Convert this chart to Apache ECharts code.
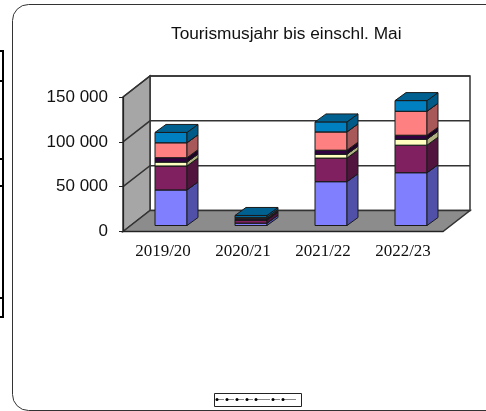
<!DOCTYPE html>
<html>
<head>
<meta charset="utf-8">
<style>
html, body { margin: 0; padding: 0; background: #fff; }
#chart { width: 486px; height: 411px; }
</style>
<script src="https://cdn.jsdelivr.net/npm/echarts@6/dist/echarts.min.js"></script>
</head>
<body>
<div id="chart"></div>
<script>
var categories = ['2019/20', '2020/21', '2021/22', '2022/23'];
var yTicks = [0, 50000, 100000, 150000];

// stack from bottom to top
var seg1 = [39700, 2700, 48900, 58900];
var seg2 = [26700, 3400, 26300, 30700];
var seg3 = [4400, 300, 4400, 6700];
var seg4 = [4800, 1300, 4400, 4400];
var seg5 = [16700, 1500, 20400, 26700];
var seg6 = [11500, 2000, 11100, 11900];
var segments = [seg1, seg2, seg3, seg4, seg5, seg6];

var segColors = ['#8080ff', '#802060', '#ffffc0', '#300040', '#ff8080', '#0080c0'];
var sideColors = ['#5050a8', '#50143f', '#b0b080', '#200028', '#a85858', '#005a88'];
var topColor = '#00608f';

var legendDots = [217, 227, 237, 247, 256, 273, 283];

var wallDx = 27, wallDy = -21;
var barDx = 8, barDy = -6;
var sideDx = 11, sideDy = -8;

var chart = echarts.init(document.getElementById('chart'), null, { renderer: 'canvas' });

function poly(points, fill, stroke, lw) {
    return {
        type: 'polygon',
        shape: { points: points },
        style: { fill: fill, stroke: stroke, lineWidth: lw }
    };
}

function renderWalls(params, api) {
    var v = api.value(0);
    var left = api.coord([0, v])[0] - api.size([1, 0])[0] / 2;
    var right = left + api.size([1, 0])[0] * categories.length;
    var y = api.coord([0, v])[1];
    var kids = [];
    if (v === 0) {
        var top = api.coord([0, yTicks[yTicks.length - 1]])[1];
        // back wall, left wall, floor
        kids.push(poly([[left + wallDx, top + wallDy], [right + wallDx, top + wallDy], [right + wallDx, y + wallDy], [left + wallDx, y + wallDy]], '#ffffff', '#333333', 1.5));
        kids.push(poly([[left, top], [left + wallDx, top + wallDy], [left + wallDx, y + wallDy], [left, y]], '#a6a6a6', '#333333', 1.5));
        kids.push(poly([[left, y], [left + wallDx, y + wallDy], [right + wallDx, y + wallDy], [right, y]], '#8c8c8c', '#333333', 1.5));
    } else {
        kids.push({ type: 'polyline', shape: { points: [[left, y], [left + wallDx, y + wallDy], [right + wallDx, y + wallDy]] }, style: { fill: 'none', stroke: '#333333', lineWidth: 1.5 } });
    }
    return { type: 'group', children: kids };
}

function renderBar(params, api) {
    var idx = api.value(0);
    var base = api.coord([idx, api.value(1)]);
    var end = api.coord([idx, api.value(2)]);
    var half = api.size([1, 0])[0] * 0.2;
    var x0 = base[0] - half + barDx, x1 = base[0] + half + barDx;
    var y0 = base[1] + barDy, y1 = end[1] + barDy;
    var s = params.seriesIndex - 1;
    return {
        type: 'group',
        children: [
            poly([[x0, y1], [x1, y1], [x1, y0], [x0, y0]], segColors[s], '#1a1a1a', 1),
            poly([[x1, y1], [x1 + sideDx, y1 + sideDy], [x1 + sideDx, y0 + sideDy], [x1, y0]], sideColors[s], '#1a1a1a', 1),
            poly([[x0, y1], [x0 + sideDx, y1 + sideDy], [x1 + sideDx, y1 + sideDy], [x1, y1]], topColor, '#1a1a1a', 1)
        ]
    };
}

var series = [{
    type: 'custom',
    renderItem: renderWalls,
    data: yTicks.map(function (t) { return [t]; }),
    encode: { y: 0 },
    silent: true,
    z: 1
}];

segments.forEach(function (seg, s) {
    var rows = seg.map(function (val, i) {
        var base = 0;
        for (var k = 0; k < s; k++) { base += segments[k][i]; }
        return [i, base, base + val];
    });
    series.push({
        type: 'custom',
        renderItem: renderBar,
        data: rows,
        encode: { x: 0, y: [1, 2] },
        silent: true,
        z: 2 + s
    });
});

// page furniture: rounded frame, clipped table on the left, empty legend box
var graphics = [
    { type: 'rect', shape: { x: 12.5, y: 4.5, width: 500, height: 406, r: 16 }, style: { fill: '#fff', stroke: '#333', lineWidth: 1 }, z: -10 },
    { type: 'polyline', shape: { points: [[0, 51], [3, 51], [3, 317], [0, 317]] }, style: { fill: 'none', stroke: '#000', lineWidth: 2 } },
    { type: 'line', shape: { x1: 0, y1: 81, x2: 3, y2: 81 }, style: { stroke: '#000', lineWidth: 2 } },
    { type: 'line', shape: { x1: 0, y1: 159, x2: 3, y2: 159 }, style: { stroke: '#000', lineWidth: 2 } },
    { type: 'line', shape: { x1: 0, y1: 186, x2: 3, y2: 186 }, style: { stroke: '#000', lineWidth: 2 } },
    { type: 'line', shape: { x1: 0, y1: 298, x2: 3, y2: 298 }, style: { stroke: '#000', lineWidth: 2 } },
    { type: 'rect', shape: { x: 214.5, y: 393.5, width: 87, height: 13 }, style: { fill: '#fff', stroke: '#222', lineWidth: 1 } }
];
legendDots.forEach(function (x, i) {
    var next = i < legendDots.length - 1 ? legendDots[i + 1] : 299;
    graphics.push({ type: 'line', shape: { x1: x, y1: 399.5, x2: next - 3, y2: 399.5 }, style: { stroke: '#888', lineWidth: 1 } });
    graphics.push({ type: 'circle', shape: { cx: x, cy: 399.5, r: 1.5 }, style: { fill: '#000' } });
});

chart.setOption({
    animation: false,
    backgroundColor: '#fff',
    title: {
        text: 'Tourismusjahr bis einschl. Mai',
        left: 166,
        top: 21,
        textStyle: { fontFamily: 'Liberation Sans', fontSize: 17.3, fontWeight: 'normal', color: '#111' }
    },
    grid: { left: 123, right: 43, top: 97, bottom: 179.5 },
    xAxis: {
        type: 'category',
        data: categories,
        z: 20,
        axisLine: { lineStyle: { color: '#222', width: 1.2 } },
        axisTick: { length: 4, alignWithLabel: false, lineStyle: { color: '#222' } },
        axisLabel: { fontFamily: 'Liberation Serif', fontSize: 17, color: '#111', margin: 12, interval: 0 }
    },
    yAxis: {
        type: 'value',
        min: 0,
        max: 150000,
        interval: 50000,
        z: 20,
        splitLine: { show: false },
        axisLine: { show: true, lineStyle: { color: '#222', width: 1.2 } },
        axisTick: { show: true, length: 4, lineStyle: { color: '#222' } },
        axisLabel: {
            fontFamily: 'Liberation Sans',
            fontSize: 17,
            color: '#111',
            margin: 15,
            padding: [3, 0, 0, 0],
            formatter: function (v) { return String(v).replace(/\B(?=(\d{3})+$)/g, ' '); }
        }
    },
    series: series,
    graphic: graphics
});
</script>
</body>
</html>
